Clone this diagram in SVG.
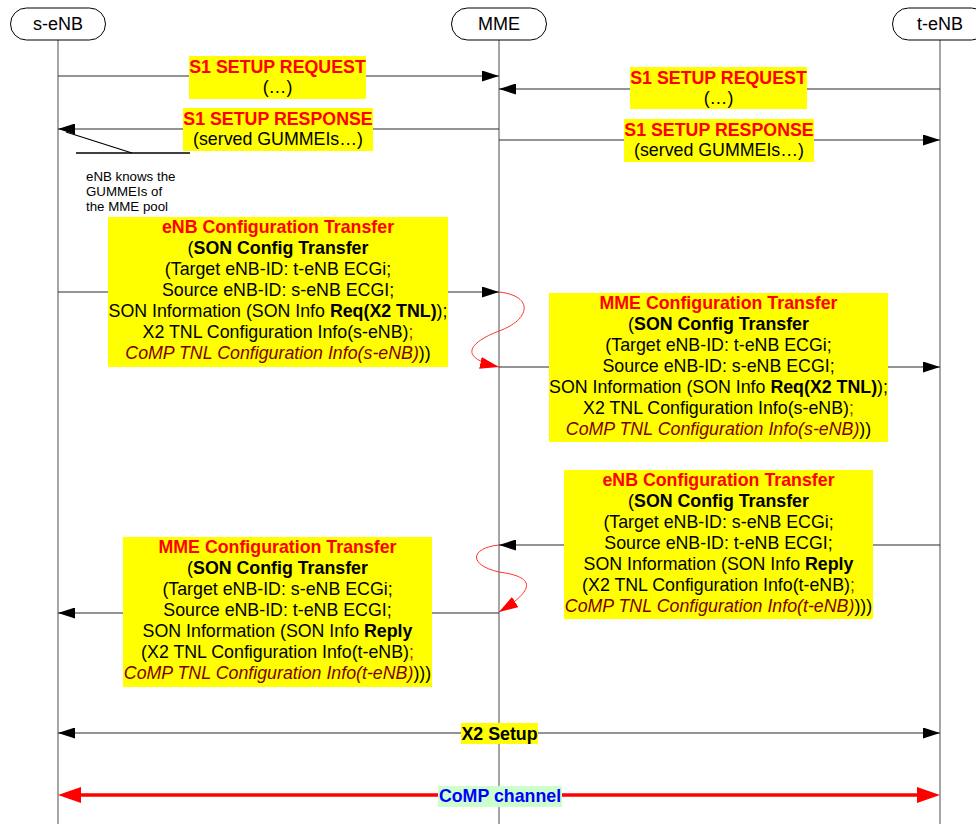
<svg xmlns="http://www.w3.org/2000/svg" width="976" height="824" viewBox="0 0 976 824">
  <style>
    text { font-family: "Liberation Sans", Arial, sans-serif; }
    .hdr { fill: #ffffff; stroke: #000000; stroke-width: 1; }
    .hdr-t { font-size: 18px; fill: #000000; text-anchor: middle; }
    .life { stroke: #6a6a6a; stroke-width: 1.2; }
    .msg { stroke: #2a2a2a; stroke-width: 1.2; fill: none; }
    .lbl { fill: #ffff00; }
    .t { font-size: 17.8px; fill: #000000; text-anchor: middle; }
    .ttl { font-weight: bold; fill: #ff0000; }
    .b { font-weight: bold; }
    .comp { font-style: italic; fill: #800000; }
    .semi { fill: #9a2a00; }
    .note { font-size: 13.3px; fill: #000000; }
    .wave { stroke: #ff3030; stroke-width: 1; fill: none; }
  </style>
  <defs>
    <marker id="ah" viewBox="0 0 17 11" refX="17" refY="5.5" markerWidth="17" markerHeight="11" markerUnits="userSpaceOnUse" orient="auto-start-reverse">
      <path d="M0,0 L17,5.5 L0,11 Z" fill="#000000"/>
    </marker>
    <marker id="ahr" viewBox="0 0 19 12" refX="19" refY="6" markerWidth="19" markerHeight="12" markerUnits="userSpaceOnUse" orient="auto">
      <path d="M0,0 L19,6 L0,12 Z" fill="#ff0000"/>
    </marker>
  </defs>

  <rect width="976" height="824" fill="#ffffff"/>

  <!-- lifelines -->
  <g id="lifelines">
    <line class="life" x1="58" y1="40" x2="58" y2="824"/>
    <line class="life" x1="499" y1="40" x2="499" y2="824"/>
    <line class="life" x1="940" y1="40" x2="940" y2="824"/>
  </g>

  <!-- participants -->
  <g id="s-enb">
    <rect class="hdr" x="10.5" y="8" width="95" height="32" rx="16"/>
    <text class="hdr-t" x="58" y="30">s-eNB</text>
  </g>
  <g id="mme">
    <rect class="hdr" x="451.5" y="8" width="95" height="32" rx="16"/>
    <text class="hdr-t" x="499" y="30">MME</text>
  </g>
  <g id="t-enb">
    <rect class="hdr" x="892.5" y="8" width="95" height="32" rx="16"/>
    <text class="hdr-t" x="940" y="30">t-eNB</text>
  </g>

  <!-- connectors -->
  <g id="connectors">
    <line class="msg" x1="58" y1="76" x2="499" y2="76" marker-end="url(#ah)"/>
    <line class="msg" x1="940" y1="89" x2="499" y2="89" marker-end="url(#ah)"/>
    <line class="msg" x1="499" y1="129" x2="58" y2="129" marker-end="url(#ah)"/>
    <line class="msg" x1="499" y1="140" x2="940" y2="140" marker-end="url(#ah)"/>
    <line class="msg" x1="58" y1="292" x2="499" y2="292" marker-end="url(#ah)"/>
    <path class="wave" d="M499,292 C535,296 530,320 499,331 C468,343 458,358 499,367" marker-end="url(#ahr)"/>
    <line class="msg" x1="499" y1="367" x2="940" y2="367" marker-end="url(#ah)"/>
    <line class="msg" x1="940" y1="545" x2="499" y2="545" marker-end="url(#ah)"/>
    <path class="wave" d="M499,545 C470,548 468,565 499,572 C545,578 525,596 499,612" marker-end="url(#ahr)"/>
    <line class="msg" x1="499" y1="613" x2="58" y2="613" marker-end="url(#ah)"/>
    <line class="msg" x1="58" y1="733" x2="940" y2="733" marker-start="url(#ah)" marker-end="url(#ah)"/>
    <g id="comp-channel">
      <line x1="78" y1="795" x2="920" y2="795" stroke="#ff0000" stroke-width="3.5"/>
      <polygon points="58,795 81,787 81,803" fill="#ff0000"/>
      <polygon points="940,795 917,787 917,803" fill="#ff0000"/>
    </g>
    <!-- annotation leader -->
    <line x1="66" y1="132" x2="132" y2="153" stroke="#000000" stroke-width="1.2"/>
    <line x1="76" y1="153" x2="190" y2="153" stroke="#000000" stroke-width="1.4"/>
  </g>

  <!-- S1 setup labels -->
  <g id="s1-req-s">
    <rect class="lbl" x="189" y="56" width="177" height="43"/>
    <text class="t" x="277.5" y="73"><tspan class="ttl">S1 SETUP REQUEST</tspan></text>
    <text class="t" x="277.5" y="93">(…)</text>
  </g>
  <g id="s1-req-t">
    <rect class="lbl" x="630" y="67" width="177" height="42"/>
    <text class="t" x="718.5" y="84"><tspan class="ttl">S1 SETUP REQUEST</tspan></text>
    <text class="t" x="718.5" y="104">(…)</text>
  </g>
  <g id="s1-rsp-s">
    <rect class="lbl" x="183" y="108" width="190" height="43"/>
    <text class="t" x="278" y="125"><tspan class="ttl">S1 SETUP RESPONSE</tspan></text>
    <text class="t" x="278" y="145">(served GUMMEIs…)</text>
  </g>
  <g id="s1-rsp-t">
    <rect class="lbl" x="624" y="119" width="190" height="43"/>
    <text class="t" x="719" y="136"><tspan class="ttl">S1 SETUP RESPONSE</tspan></text>
    <text class="t" x="719" y="156">(served GUMMEIs…)</text>
  </g>

  <!-- note -->
  <g id="note">
    <text class="note" x="86" y="181">eNB knows the</text>
    <text class="note" x="86" y="196">GUMMEIs of</text>
    <text class="note" x="86" y="211">the MME pool</text>
  </g>

  <!-- eNB configuration transfer, s-eNB to MME -->
  <g id="enb-cfg-s">
    <rect class="lbl" x="108" y="217" width="340" height="150"/>
    <text class="t" x="278" y="233"><tspan class="ttl">eNB Configuration Transfer</tspan></text>
    <text class="t" x="278" y="254">(<tspan class="b">SON Config Transfer</tspan></text>
    <text class="t" x="278" y="275">(Target eNB-ID: t-eNB ECGi;</text>
    <text class="t" x="278" y="296">Source eNB-ID: s-eNB ECGI;</text>
    <text class="t" x="278" y="317">SON Information (SON Info <tspan class="b">Req(X2 TNL)</tspan>);</text>
    <text class="t" x="278" y="338">X2 TNL Configuration Info(s-eNB)<tspan class="semi">;</tspan></text>
    <text class="t" x="278" y="359"><tspan class="comp">CoMP TNL Configuration Info(s-eNB)</tspan>))</text>
  </g>

  <!-- MME configuration transfer, MME to t-eNB -->
  <g id="mme-cfg-t">
    <rect class="lbl" x="549" y="293" width="339" height="149"/>
    <text class="t" x="718.5" y="309"><tspan class="ttl">MME Configuration Transfer</tspan></text>
    <text class="t" x="718.5" y="330">(<tspan class="b">SON Config Transfer</tspan></text>
    <text class="t" x="718.5" y="351">(Target eNB-ID: t-eNB ECGi;</text>
    <text class="t" x="718.5" y="372">Source eNB-ID: s-eNB ECGI;</text>
    <text class="t" x="718.5" y="393">SON Information (SON Info <tspan class="b">Req(X2 TNL)</tspan>);</text>
    <text class="t" x="718.5" y="414">X2 TNL Configuration Info(s-eNB)<tspan class="semi">;</tspan></text>
    <text class="t" x="718.5" y="435"><tspan class="comp">CoMP TNL Configuration Info(s-eNB)</tspan>))</text>
  </g>

  <!-- eNB configuration transfer, t-eNB to MME -->
  <g id="enb-cfg-t">
    <rect class="lbl" x="564" y="470" width="309" height="149"/>
    <text class="t" x="718.5" y="486"><tspan class="ttl">eNB Configuration Transfer</tspan></text>
    <text class="t" x="718.5" y="507">(<tspan class="b">SON Config Transfer</tspan></text>
    <text class="t" x="718.5" y="528">(Target eNB-ID: s-eNB ECGi;</text>
    <text class="t" x="718.5" y="549">Source eNB-ID: t-eNB ECGI;</text>
    <text class="t" x="718.5" y="570">SON Information (SON Info <tspan class="b">Reply</tspan></text>
    <text class="t" x="718.5" y="591">(X2 TNL Configuration Info(t-eNB)<tspan class="semi">;</tspan></text>
    <text class="t" x="718.5" y="612"><tspan class="comp">CoMP TNL Configuration Info(t-eNB)</tspan>)))</text>
  </g>

  <!-- MME configuration transfer, MME to s-eNB -->
  <g id="mme-cfg-s">
    <rect class="lbl" x="123" y="537" width="309" height="150"/>
    <text class="t" x="277.5" y="553"><tspan class="ttl">MME Configuration Transfer</tspan></text>
    <text class="t" x="277.5" y="574">(<tspan class="b">SON Config Transfer</tspan></text>
    <text class="t" x="277.5" y="595">(Target eNB-ID: s-eNB ECGi;</text>
    <text class="t" x="277.5" y="616">Source eNB-ID: t-eNB ECGI;</text>
    <text class="t" x="277.5" y="637">SON Information (SON Info <tspan class="b">Reply</tspan></text>
    <text class="t" x="277.5" y="658">(X2 TNL Configuration Info(t-eNB)<tspan class="semi">;</tspan></text>
    <text class="t" x="277.5" y="679"><tspan class="comp">CoMP TNL Configuration Info(t-eNB)</tspan>)))</text>
  </g>

  <!-- X2 setup -->
  <g id="x2-setup">
    <rect class="lbl" x="461" y="723" width="77" height="21"/>
    <text class="t" x="499.5" y="740"><tspan class="b">X2 Setup</tspan></text>
  </g>

  <!-- CoMP channel label -->
  <g id="comp-label">
    <rect x="438" y="786" width="124" height="21" fill="#ccffcc"/>
    <text class="t" x="500" y="802"><tspan class="b" fill="#0000ff">CoMP channel</tspan></text>
  </g>
</svg>
